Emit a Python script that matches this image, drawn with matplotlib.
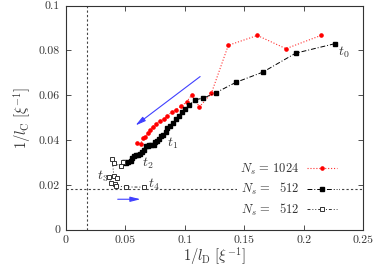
import matplotlib
matplotlib.use('Agg')
import matplotlib.pyplot as plt

plt.rcParams['font.family'] = 'cmr10'
plt.rcParams['mathtext.fontset'] = 'cm'
plt.rcParams['axes.formatter.use_mathtext'] = True

# Ns = 1024 (red), time order from t0
red_x = [0.2144, 0.185, 0.161, 0.1366, 0.1223, 0.1123, 0.1061, 0.1015, 0.0970, 0.0928,
         0.0889, 0.0854, 0.0822, 0.0790, 0.0760, 0.0733, 0.0706, 0.0690, 0.0668, 0.0650,
         0.0630, 0.0602]
red_y = [0.0867, 0.0808, 0.0867, 0.0823, 0.0608, 0.0548, 0.0603, 0.0570, 0.0551, 0.0536,
         0.0524, 0.0508, 0.0493, 0.0485, 0.0474, 0.0460, 0.0447, 0.0433, 0.0413, 0.0409,
         0.0383, 0.0387]

# Ns = 512 (filled squares)
blk_x = [0.2259, 0.1932, 0.1655, 0.1431, 0.1263, 0.1156, 0.1085, 0.1040, 0.1002, 0.0975,
         0.0950, 0.0930, 0.0905, 0.0880, 0.0855, 0.0840, 0.0815, 0.0800, 0.0785, 0.0770,
         0.0752, 0.0738, 0.0720, 0.0703, 0.0688, 0.0672, 0.0660, 0.0643, 0.0625, 0.0608,
         0.0592, 0.0577, 0.0560, 0.0545, 0.0525, 0.0508, 0.0490]
blk_y = [0.0830, 0.0788, 0.0703, 0.0658, 0.0612, 0.0587, 0.0580, 0.0556, 0.0538, 0.0524,
         0.0508, 0.0493, 0.0475, 0.0462, 0.0452, 0.0436, 0.0424, 0.0418, 0.0404, 0.0398,
         0.0390, 0.0380, 0.0377, 0.0376, 0.0374, 0.0372, 0.0355, 0.0345, 0.0340, 0.0333,
         0.0332, 0.0328, 0.0318, 0.0308, 0.0301, 0.0298, 0.0302]

# Ns = 512 (open squares), continuation
opn_x = [0.0479, 0.0465, 0.0406, 0.0392, 0.0404, 0.0428, 0.0366, 0.0380, 0.0413, 0.0427,
         0.0505, 0.0655]
opn_y = [0.0304, 0.0284, 0.0297, 0.0315, 0.0241, 0.0233, 0.0234, 0.0210, 0.0206, 0.0195,
         0.0191, 0.0190]

labels = [r'$N_s\,=\,1024$', r'$N_s\,=\,\enspace512$', r'$N_s\,=\,\enspace512$']
ref_line = 0.0182

fig = plt.figure(figsize=(3.74, 2.69), dpi=100)
ax = fig.add_axes([0.1755, 0.146, 0.796, 0.833])

ax.axvline(ref_line, color='#444444', lw=0.8, ls=(0, (2, 2)), zorder=1)
ax.axhline(ref_line, color='#444444', lw=0.8, ls=(0, (2, 2)), zorder=1)

ax.plot(red_x, red_y, color='#ff3030', ls=':', lw=0.8, marker='o', ms=2.3,
        mfc='red', mec='red', label=labels[0], zorder=3)
ax.plot(blk_x, blk_y, color='black', ls=(0, (5, 2, 1, 2)), lw=0.7, marker='s', ms=2.2,
        mfc='black', mec='black', label=labels[1], zorder=3)
ax.plot(opn_x, opn_y, color='#333333', ls=(0, (3, 2, 1, 2, 1, 2)), lw=0.7, marker='s', ms=2.5,
        mfc='white', mec='#333333', mew=0.7, label=labels[2], zorder=3)

ax.annotate('', xy=(0.0568, 0.0458), xytext=(0.1148, 0.0691),
            arrowprops=dict(arrowstyle='-|>,head_length=0.6,head_width=0.15', color='#4040ff', lw=0.8))
ax.annotate('', xy=(0.0652, 0.0136), xytext=(0.0414, 0.0136),
            arrowprops=dict(arrowstyle='-|>,head_length=0.6,head_width=0.15', color='#4040ff', lw=0.8))

for txt, tx, ty in [('$t_0$', 0.2287, 0.0790), ('$t_1$', 0.0848, 0.0385), ('$t_2$', 0.0640, 0.0297),
                    ('$t_3$', 0.0262, 0.0238), ('$t_4$', 0.0690, 0.0203)]:
    ax.text(tx, ty, txt, fontsize=10, color='#333333', ha='left', va='center')

ax.set_xlim(0, 0.25)
ax.set_ylim(0, 0.1)
ax.set_xticks([0, 0.05, 0.1, 0.15, 0.2, 0.25])
ax.set_xticklabels(['0', '0.05', '0.1', '0.15', '0.2', '0.25'])
ax.set_yticks([0, 0.02, 0.04, 0.06, 0.08, 0.1])
ax.set_yticklabels(['0', '0.02', '0.04', '0.06', '0.08', '0.1'])
ax.tick_params(direction='in', top=True, right=True, length=3.5, width=0.6,
               labelsize=8.5, colors='#333333', pad=4)
for s in ax.spines.values():
    s.set_linewidth(0.8)
    s.set_color('#333333')

ax.set_xlabel(r'$1/l_{\rm D}\ [\xi^{-1}]$', fontsize=10.5, color='#333333', labelpad=0)
ax.set_ylabel(r'$1/l_{\rm C}\ [\xi^{-1}]$', fontsize=10.5, color='#333333', labelpad=4)

leg = ax.legend(loc='lower right', frameon=True, markerfirst=False, fontsize=9,
                handlelength=2.4, handletextpad=0.6, labelspacing=0.35,
                borderpad=0.2, bbox_to_anchor=(0.94, 0.015))
leg.get_frame().set_edgecolor('none')
leg.get_frame().set_facecolor('white')
leg.get_frame().set_alpha(1)
for t in leg.get_texts():
    t.set_color('#333333')

fig.savefig('out.png', dpi=100)
